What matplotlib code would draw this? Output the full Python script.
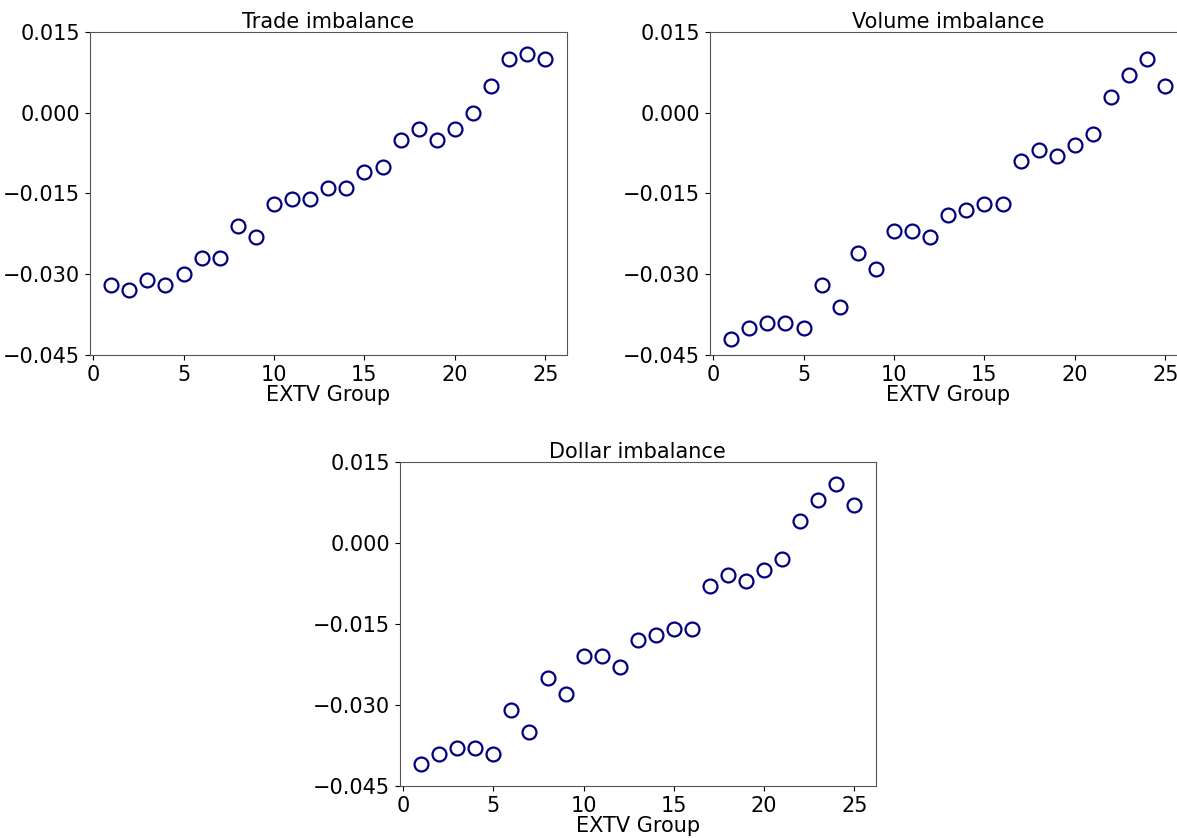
import numpy as np
import matplotlib
matplotlib.use("Agg")
import matplotlib.pyplot as plt

groups = np.arange(1, 26)

trade = [-0.032, -0.033, -0.031, -0.032, -0.030, -0.027, -0.027, -0.021, -0.023, -0.017,
         -0.016, -0.016, -0.014, -0.014, -0.011, -0.010, -0.005, -0.003, -0.005, -0.003,
         0.000, 0.005, 0.010, 0.011, 0.010]
volume = [-0.042, -0.040, -0.039, -0.039, -0.040, -0.032, -0.036, -0.026, -0.029, -0.022,
          -0.022, -0.023, -0.019, -0.018, -0.017, -0.017, -0.009, -0.007, -0.008, -0.006,
          -0.004, 0.003, 0.007, 0.010, 0.005]
dollar = [-0.041, -0.039, -0.038, -0.038, -0.039, -0.031, -0.035, -0.025, -0.028, -0.021,
          -0.021, -0.023, -0.018, -0.017, -0.016, -0.016, -0.008, -0.006, -0.007, -0.005,
          -0.003, 0.004, 0.008, 0.011, 0.007]

titles = ["Trade imbalance", "Volume imbalance", "Dollar imbalance"]
series = [trade, volume, dollar]
yticks = [-0.045, -0.030, -0.015, 0.000, 0.015]

plt.rcParams.update({'font.size': 15})
fig = plt.figure(figsize=(11.77, 8.38), dpi=100)

W, H = 1177., 838.
# axes boxes in pixels: left, top, right, bottom
boxes = [(89.5, 32, 567, 355), (709.5, 32, 1187, 355), (399.5, 462, 876, 786)]

for box, title, vals in zip(boxes, titles, series):
    l, t, r, b = box
    ax = fig.add_axes([l / W, 1 - b / H, (r - l) / W, (b - t) / H])
    ax.plot(groups, vals, 'o', mfc='none', mec='navy', ms=10, mew=1.6)
    ax.set_ylim(-0.045, 0.015)
    ax.set_yticks(yticks)
    ax.set_yticklabels([("%.3f" % (v + 0.0)).replace('-', '\u2212') for v in yticks])
    ax.set_xticks([0, 5, 10, 15, 20, 25])
    ax.set_title(title, fontsize=15, pad=3)
    ax.set_xlabel('EXTV Group', labelpad=0)
    for s in ax.spines.values():
        s.set_color('#555555')

plt.savefig("out.png", dpi=100)
